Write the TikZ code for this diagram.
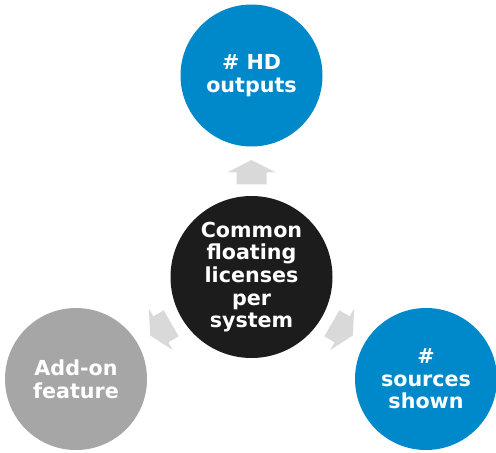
\documentclass[tikz,border=0pt]{standalone}
\usepackage{fontspec}
\setmainfont{DejaVu Sans}
\definecolor{hubblue}{RGB}{0,137,202}
\definecolor{hubgray}{RGB}{166,166,166}
\definecolor{hubblack}{RGB}{28,28,28}
\definecolor{arrowgray}{RGB}{217,217,217}
\tikzset{
  bubble/.style={circle, inner sep=0pt, text=white, align=center,
    font=\bfseries\fontsize{15.5pt}{17pt}\selectfont},
  small/.style={bubble, minimum size=106.5pt},
  big/.style={bubble, minimum size=121.5pt},
  blockarrow/.style={fill=arrowgray, draw=none}
}
\begin{document}
\begin{tikzpicture}[x=0.75pt,y=-0.75pt]
\useasboundingbox (0,0) rectangle (496,453);
\node[big, fill=hubblack] (c) at (251.5,277) {Common\\floating\\licenses\\per\\system};
\node[small, fill=hubblue] (t) at (251.5,75.5) {\# HD\\outputs};
\node[small, fill=hubgray] (l) at (76,379) {Add-on\\feature};
\node[small, fill=hubblue] (r) at (426,379) {\#\\sources\\shown};
\foreach \ang in {0,120,240}{
  \begin{scope}[shift={(c.center)}, x=0.75pt, y=0.75pt, rotate=\ang]
    \fill[blockarrow] (-15,92.7) -- (15,92.7) -- (15,104.7) -- (24,104.7)
      -- (0,117) -- (-24,104.7) -- (-15,104.7) -- cycle;
  \end{scope}
}
\end{tikzpicture}
\end{document}
